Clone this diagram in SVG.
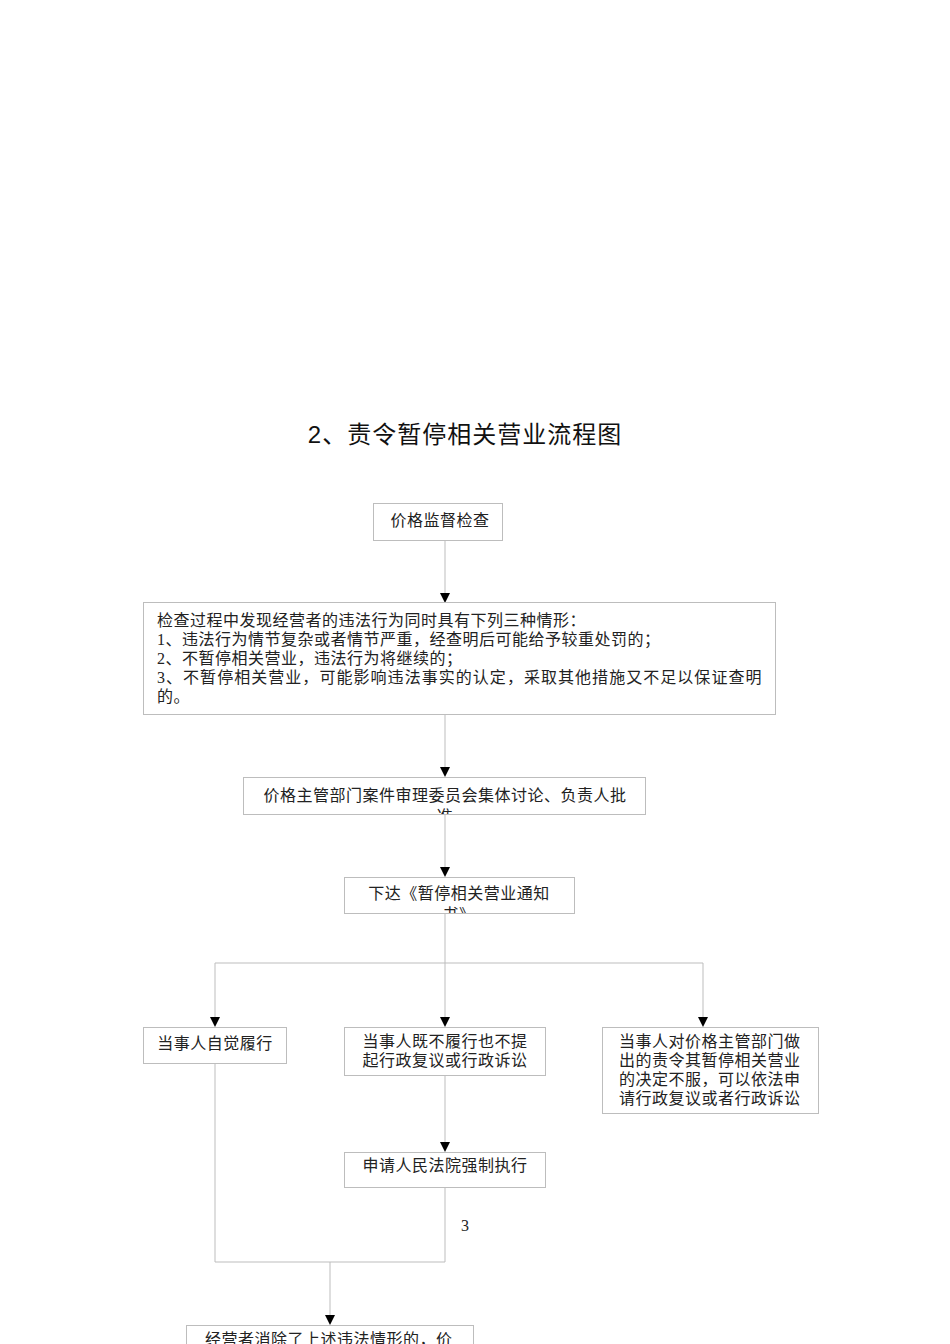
<svg xmlns="http://www.w3.org/2000/svg" width="950" height="1344" viewBox="0 0 950 1344">
<style>
.box{fill:#fff;stroke:#bdbdbd;stroke-width:1}
.ln{fill:none;stroke:#bdbdbd;stroke-width:1}
.t{font-family:"Liberation Serif","Noto Sans CJK SC",serif;font-size:16px;fill:#222;letter-spacing:0.5px}
.c{text-anchor:middle}
.title{font-family:"Liberation Sans","Noto Sans CJK SC",sans-serif;font-size:24px;fill:#111;text-anchor:middle;letter-spacing:1px}
</style>
<defs>
<clipPath id="clip3"><rect x="243" y="777" width="402" height="37"/></clipPath>
<clipPath id="clip4"><rect x="344" y="877" width="230" height="36"/></clipPath>
</defs>
<rect width="950" height="1344" fill="#fff"/>
<text class="title" x="465" y="443">2、责令暂停相关营业流程图</text>
<g id="connectors">
<path class="ln" d="M445,540 V593"/>
<polygon points="440,593 450,593 445,603" fill="#000"/>
<path class="ln" d="M445,714 V767"/>
<polygon points="440,767 450,767 445,777" fill="#000"/>
<path class="ln" d="M445,814 V867"/>
<polygon points="440,867 450,867 445,877" fill="#000"/>
<path class="ln" d="M445,913 V963 M215,963 H703 M215,963 V1017 M445,963 V1017 M703,963 V1017"/>
<polygon points="210,1017 220,1017 215,1027" fill="#000"/>
<polygon points="440,1017 450,1017 445,1027" fill="#000"/>
<polygon points="698,1017 708,1017 703,1027" fill="#000"/>
<path class="ln" d="M445,1075 V1142"/>
<polygon points="440,1142 450,1142 445,1152" fill="#000"/>
<path class="ln" d="M445,1187 V1262 M215,1063 V1262 M215,1262 H445 M330,1262 V1315"/>
<polygon points="325,1315 335,1315 330,1325" fill="#000"/>
</g>
<g id="n1">
<rect class="box" x="373.5" y="503.5" width="129" height="37"/>
<text class="t c" x="440" y="526">价格监督检查</text>
</g>
<g id="n2">
<rect class="box" x="143.5" y="602.5" width="632" height="112"/>
<text class="t" x="157" y="626">检查过程中发现经营者的违法行为同时具有下列三种情形：</text>
<text class="t" x="157" y="645">1、违法行为情节复杂或者情节严重，经查明后可能给予较重处罚的；</text>
<text class="t" x="157" y="664">2、不暂停相关营业，违法行为将继续的；</text>
<text class="t" x="157" y="683" textLength="605" lengthAdjust="spacing">3、不暂停相关营业，可能影响违法事实的认定，采取其他措施又不足以保证查明</text>
<text class="t" x="157" y="702">的。</text>
</g>
<g id="n3">
<rect class="box" x="243.5" y="777.5" width="402" height="37"/>
<g clip-path="url(#clip3)">
<text class="t c" x="445" y="801">价格主管部门案件审理委员会集体讨论、负责人批</text>
<text class="t c" x="445" y="822">准</text>
</g>
</g>
<g id="n4">
<rect class="box" x="344.5" y="877.5" width="230" height="36"/>
<g clip-path="url(#clip4)">
<text class="t c" x="459" y="899">下达《暂停相关营业通知</text>
<text class="t c" x="459" y="920">书》</text>
</g>
</g>
<g id="n5">
<rect class="box" x="143.5" y="1027.5" width="143" height="36"/>
<text class="t c" x="215" y="1049">当事人自觉履行</text>
</g>
<g id="n6">
<rect class="box" x="344.5" y="1027.5" width="201" height="48"/>
<text class="t c" x="445" y="1047">当事人既不履行也不提</text>
<text class="t c" x="445" y="1066">起行政复议或行政诉讼</text>
</g>
<g id="n7">
<rect class="box" x="602.5" y="1027.5" width="216" height="86"/>
<text class="t" x="619" y="1047">当事人对价格主管部门做</text>
<text class="t" x="619" y="1066">出的责令其暂停相关营业</text>
<text class="t" x="619" y="1085">的决定不服，可以依法申</text>
<text class="t" x="619" y="1104">请行政复议或者行政诉讼</text>
</g>
<g id="n8">
<rect class="box" x="344.5" y="1152.5" width="201" height="35"/>
<text class="t c" x="445" y="1171">申请人民法院强制执行</text>
</g>
<text class="t" x="461" y="1231">3</text>
<g id="n9">
<rect class="box" x="186.5" y="1325.5" width="287" height="40"/>
<text class="t" x="205" y="1345">经营者消除了上述违法情形的，价</text>
</g>
</svg>
